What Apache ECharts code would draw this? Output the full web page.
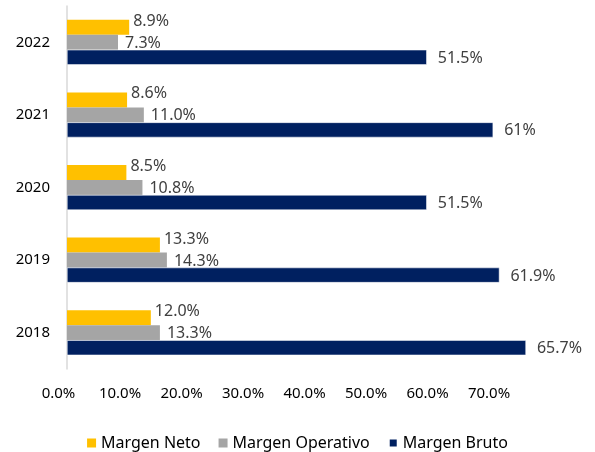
<!DOCTYPE html>
<html lang="es">
<head>
  <meta charset="UTF-8">
  <title>Márgenes</title>
  <script src="https://cdn.jsdelivr.net/npm/echarts@6/dist/echarts.min.js"></script>
  <style>
    html, body { margin: 0; padding: 0; background: #fff; }
    #chart { width: 595px; height: 452px; }
  </style>
</head>
<body>
<div id="chart"></div>
<script>
  // datos
  var years = ['2018', '2019', '2020', '2021', '2022'];
  var margenNeto = [12.0, 13.3, 8.5, 8.6, 8.9];
  var margenOperativo = [13.3, 14.3, 10.8, 11.0, 7.3];
  var margenBruto = [65.7, 61.9, 51.5, 61.0, 51.5];
  var brutoLabels = ['65.7%', '61.9%', '51.5%', '61%', '51.5%'];
  var xTicks = [0, 10, 20, 30, 40, 50, 60, 70];

  var labelFont = { color: '#404040', fontSize: 16, fontFamily: 'Noto Sans' };

  var myChart = echarts.init(document.getElementById('chart'));
  var option = {
    animation: false,
    grid: [
      { left: 67, width: 489, top: 6, height: 363 },
      // solo para las etiquetas del eje x
      { left: 58.5, width: 430.5, top: 6, height: 363 }
    ],
    xAxis: [
      {
        type: 'value', gridIndex: 0, min: xTicks[0], max: xTicks[xTicks.length - 1], interval: 10,
        axisLine: { show: false }, axisTick: { show: false },
        splitLine: { show: false }, axisLabel: { show: false }
      },
      {
        type: 'value', gridIndex: 1, min: xTicks[0], max: xTicks[xTicks.length - 1], interval: 10,
        axisLine: { show: false }, axisTick: { show: false }, splitLine: { show: false },
        axisLabel: {
          margin: 17, color: '#000', fontSize: 15, fontFamily: 'Noto Sans',
          formatter: function (v) { return v.toFixed(1) + '%'; }
        }
      }
    ],
    yAxis: [
      {
        type: 'category', gridIndex: 0, data: years,
        axisLine: { show: true, lineStyle: { color: '#d9d9d9', width: 1.5 } },
        axisTick: { show: false },
        axisLabel: { margin: 17, color: '#000', fontSize: 15, fontFamily: 'Noto Sans' }
      },
      { type: 'category', gridIndex: 1, data: years, show: false }
    ],
    legend: {
      top: 430,
      left: 'center',
      icon: 'rect',
      itemWidth: 9,
      itemHeight: 9,
      itemGap: 18,
      textStyle: { color: '#000', fontSize: 16, fontFamily: 'Noto Sans' },
      data: ['Margen Neto', 'Margen Operativo', 'Margen Bruto']
    },
    series: [
      {
        name: 'Margen Neto', type: 'bar', data: margenNeto,
        barGap: '0%', barCategoryGap: '38%',
        itemStyle: { color: '#FFC000' },
        label: Object.assign({
          show: true, position: 'right', distance: 4, offset: [0, -6],
          formatter: function (p) { return p.value.toFixed(1) + '%'; }
        }, labelFont)
      },
      {
        name: 'Margen Operativo', type: 'bar', data: margenOperativo,
        barGap: '0%', barCategoryGap: '38%',
        itemStyle: { color: '#A5A5A5' },
        label: Object.assign({
          show: true, position: 'right', distance: 7, offset: [0, 1],
          formatter: function (p) { return p.value.toFixed(1) + '%'; }
        }, labelFont)
      },
      {
        name: 'Margen Bruto', type: 'bar', data: margenBruto,
        barGap: '0%', barCategoryGap: '38%',
        itemStyle: { color: '#002060', borderColor: '#fff', borderWidth: 0.5 },
        label: Object.assign({
          show: true, position: 'right', distance: 11, offset: [0, 1],
          formatter: function (p) { return brutoLabels[p.dataIndex]; }
        }, labelFont)
      }
    ]
  };
  myChart.setOption(option);
</script>
</body>
</html>
